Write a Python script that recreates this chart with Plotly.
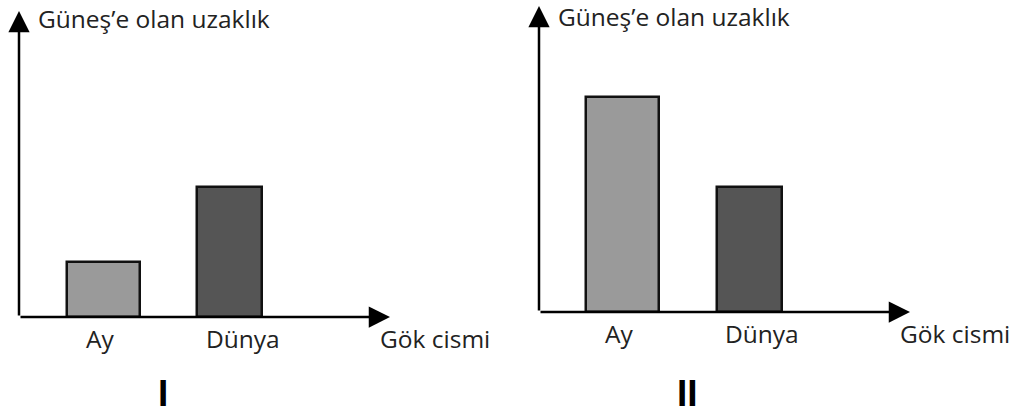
import plotly.graph_objects as go

# ---- data ----
categories = ["Ay", "Dünya"]
values_I = [55, 130]      # Güneş'e olan uzaklık (grafik I)
values_II = [215, 125]    # Güneş'e olan uzaklık (grafik II)
bar_colors = ["#9a9a9a", "#555555"]
bar_widths = [0.58, 0.515]
y_title = "Güneş’e olan uzaklık"
x_title = "Gök cismi"
panel_labels = ["I", "II"]

W, H = 1013, 414
FONT = "Open Sans"
TXT = "#222222"
FS = 24.5

fig = go.Figure()
fig.add_trace(go.Bar(x=categories, y=values_I, width=bar_widths,
                     marker=dict(color=bar_colors, line=dict(color="#111111", width=2.5)),
                     xaxis="x", yaxis="y", showlegend=False, hoverinfo="skip"))
fig.add_trace(go.Bar(x=categories, y=values_II, width=bar_widths,
                     marker=dict(color=bar_colors, line=dict(color="#111111", width=2.5)),
                     xaxis="x2", yaxis="y2", showlegend=False, hoverinfo="skip"))

def px_x(p):
    return p / W

def px_y(p):
    return 1 - p / H

panels = [
    dict(xa="x", ya="y", x0=19, x1=390, yb=317, yt=11, xr=[-0.671, 2.274], label_x=163, tshift=-7),
    dict(xa="x2", ya="y2", x0=539, x1=910, yb=312, yt=6, xr=[-0.657, 2.264], label_x=687, tshift=-11),
]

layout = dict(width=W, height=H, margin=dict(l=0, r=0, t=0, b=0),
              paper_bgcolor="white", plot_bgcolor="white", bargap=0)
annotations = []
for i, p in enumerate(panels):
    sfx = "" if i == 0 else "2"
    layout["xaxis" + sfx] = dict(domain=[px_x(p["x0"]), px_x(p["x1"])], range=p["xr"],
                                 showline=False, showgrid=False, zeroline=False,
                                 showticklabels=False, ticks="", fixedrange=True,
                                 type="category", anchor=p["ya"])
    layout["yaxis" + sfx] = dict(domain=[px_y(p["yb"]), px_y(p["yt"])], range=[0, p["yb"] - p["yt"]],
                                 showline=False, showgrid=False, zeroline=False,
                                 showticklabels=False, ticks="", fixedrange=True,
                                 anchor=p["xa"])
    xd = p["xa"] + " domain"
    yd = p["ya"] + " domain"
    annotations.append(dict(x=1, y=0, xref=xd, yref=yd, ax=0, ay=0, axref=xd, ayref=yd,
                            showarrow=True, arrowhead=2, arrowsize=1.7, arrowwidth=2.5,
                            arrowcolor="black", text=""))
    annotations.append(dict(x=0, y=1, xref=xd, yref=yd, ax=0, ay=0, axref=xd, ayref=yd,
                            showarrow=True, arrowhead=2, arrowsize=1.7, arrowwidth=2.5,
                            arrowcolor="black", text=""))
    annotations.append(dict(x=0, y=1, xref=xd, yref=yd, xanchor="left", yanchor="middle",
                            xshift=17, yshift=p["tshift"], text=y_title, showarrow=False,
                            font=dict(family=FONT, size=FS, color=TXT)))
    annotations.append(dict(x=1, y=0, xref=xd, yref=yd, xanchor="left", yanchor="middle",
                            xshift=-12, yshift=-21, text=x_title, showarrow=False,
                            font=dict(family=FONT, size=FS, color=TXT)))
    for cat, sh in zip(categories, [-3.5, 13]):
        annotations.append(dict(x=cat, y=0, xref=p["xa"], yref=p["ya"], xanchor="center",
                                yanchor="middle", xshift=sh, yshift=-21, text=cat,
                                showarrow=False, font=dict(family=FONT, size=FS, color=TXT)))
    annotations.append(dict(x=px_x(p["label_x"]), y=px_y(393), xref="paper", yref="paper",
                            xanchor="center", yanchor="middle", text=panel_labels[i],
                            showarrow=False,
                            font=dict(family="Liberation Sans", size=37, color="black", weight="bold")))

layout["annotations"] = annotations
fig.update_layout(**layout)
fig.write_html("out.html", config={"displayModeBar": False},
               post_script="document.body.style.margin='0';document.body.style.padding='0';")
